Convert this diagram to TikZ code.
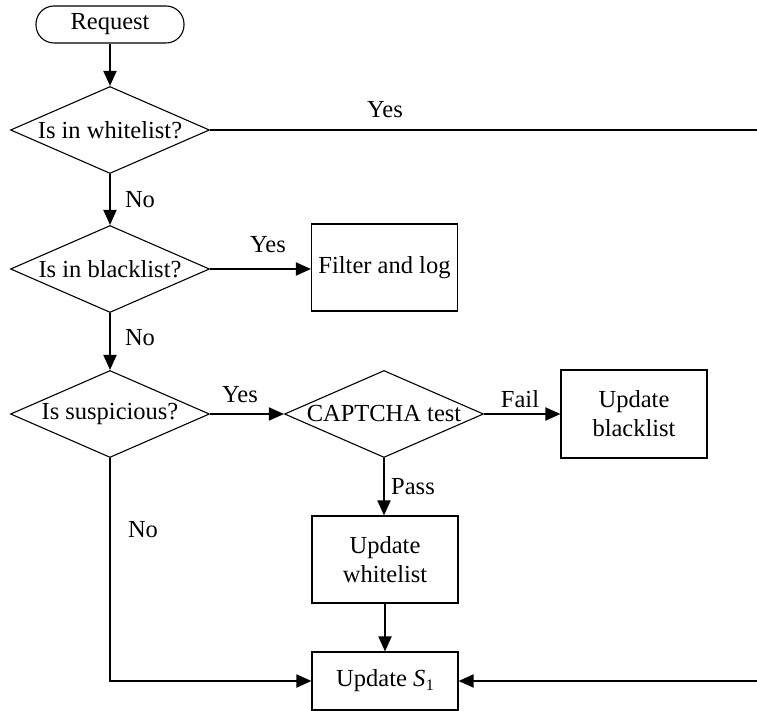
\documentclass[tikz,border=0pt]{standalone}
\usepackage{fontspec}
\setmainfont{Liberation Serif}
\usetikzlibrary{shapes.geometric,arrows.meta}

\tikzset{
  base/.style={draw=black, line width=1.1pt, inner sep=0pt, font=\fontsize{24.5}{29}\selectfont},
  startbox/.style={base, rectangle, rounded corners=18pt, minimum width=148pt, minimum height=37pt},
  procbox/.style={base, rectangle, minimum width=146pt, align=center},
  decision/.style={base, diamond, minimum width=199pt, minimum height=87pt},
  flow/.style={line width=1.9pt, -{Triangle[length=15pt,width=13pt]}},
  plainflow/.style={line width=1.9pt},
  lbl/.style={font=\fontsize{24.5}{29}\selectfont, inner sep=0pt}
}

\begin{document}
\begin{tikzpicture}[x=1pt, y=-1pt]
  \useasboundingbox (0,0) rectangle (757,711);

  % nodes
  \node[startbox] (req) at (110,24.5) {Request};
  \node[decision] (white) at (110,130) {\makebox[0pt]{Is in whitelist?}};
  \node[decision] (black) at (110,269) {\makebox[0pt]{Is in blacklist?}};
  \node[procbox, minimum height=87pt] (filter) at (384.5,267.5) {Filter and log};
  \node[decision] (susp) at (110,414) {\makebox[0pt]{Is suspicious?}};
  \node[decision] (captcha) at (384,414) {\makebox[0pt]{CAPTCHA test}};
  \node[procbox, minimum height=88pt] (updblack) at (634,414) {Update\\blacklist};
  \node[procbox, minimum height=87pt] (updwhite) at (385,559.5) {Update\\whitelist};
  \node[procbox, minimum height=58pt] (upds) at (385,681)
     {Update \textit{S}\kern0.5pt\raisebox{-0.35ex}{\fontsize{16}{16}\selectfont 1}};

  % free ends at the right border
  \coordinate (wout) at (757,130);
  \coordinate (sin) at (757,681);
  \coordinate (corner) at (110,681);

  % connectors
  \draw[flow] (req) -- (white);
  \draw[plainflow] (white.east) -- (wout);
  \draw[flow] (white) -- (black);
  \draw[flow] (black.east) -- (black.east -| filter.west);
  \draw[flow] (black) -- (susp);
  \draw[flow] (susp.east) -- (captcha.west);
  \draw[flow] (captcha.east) -- (updblack.west);
  \draw[flow] (captcha.south) -- (updwhite.north -| captcha.south);
  \draw[flow] (updwhite) -- (upds);
  \draw[flow] (susp.south) -- (corner) -- (upds.west);
  \draw[flow] (sin) -- (upds.east);

  % branch labels
  \node[lbl] (lyes1) at (385,110) {Yes};
  \node[lbl] (lno1) at (140,200) {No};
  \node[lbl] (lyes2) at (268,245) {Yes};
  \node[lbl] (lno2) at (140,338) {No};
  \node[lbl] (lyes3) at (240,395) {Yes};
  \node[lbl] (lfail) at (520,399) {Fail};
  \node[lbl] (lpass) at (413,487) {Pass};
  \node[lbl] (lno3) at (143,530) {No};
\end{tikzpicture}
\end{document}
